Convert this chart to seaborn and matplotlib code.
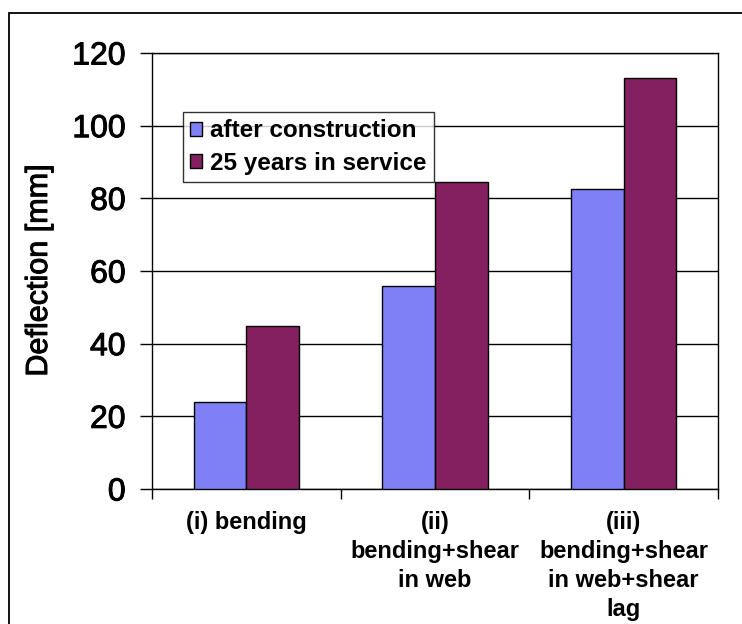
import matplotlib
matplotlib.use("Agg")
import matplotlib.pyplot as plt
import matplotlib.patheffects as pe
import seaborn as sns
import pandas as pd
from matplotlib.patches import Rectangle

categories = ["(i) bending", "(ii)\nbending+shear\nin web", "(iii)\nbending+shear\nin web+shear\nlag"]
series_names = ["after construction", "25 years in service"]
after_construction = [24, 56, 82.5]
years_25 = [45, 84.5, 113]
yticks = [0, 20, 40, 60, 80, 100, 120]

df = pd.DataFrame({
    "cat": categories * 2,
    "series": [series_names[0]] * 3 + [series_names[1]] * 3,
    "val": after_construction + years_25,
})

sns.set_theme(style="white")
plt.rcParams["font.family"] = ["Liberation Sans", "DejaVu Sans"]
plt.rcParams["text.color"] = "black"
plt.rcParams["xtick.color"] = "black"
plt.rcParams["ytick.color"] = "black"
plt.rcParams["axes.labelcolor"] = "black"

fig = plt.figure(figsize=(7.42, 6.24), dpi=100)
ax = fig.add_axes([152/742, 1-489/624, (718-152)/742, (489-53)/624])

palette = {series_names[0]: "#7f7ff6", series_names[1]: "#84205f"}
sns.barplot(data=df, x="cat", y="val", hue="series", palette=palette,
            width=0.56, edgecolor="black", linewidth=1.0, saturation=1,
            ax=ax, zorder=3)

thick = [pe.withStroke(linewidth=0.7, foreground="black")]

ax.set_ylim(0, 120)
ax.set_xlim(-0.5, 2.5)
ax.set_yticks(yticks)
ax.set_yticklabels([str(t) for t in yticks], fontsize=23, path_effects=thick)
ax.yaxis.grid(True, color="black", linewidth=1.0, zorder=0)
ax.set_axisbelow(True)
ax.tick_params(axis="y", direction="out", length=9, width=1, color="black", left=True, pad=10)

ax.set_xticks([0, 1, 2])
ax.set_xticklabels(categories, fontsize=17, fontweight="bold", linespacing=1.32, va="top")
ax.tick_params(axis="x", which="major", length=0, pad=16)
ax.set_xticks([-0.5, 0.5, 1.5, 2.5], minor=True)
ax.tick_params(axis="x", which="minor", direction="out", length=7, width=1, color="black", bottom=True)

ax.set_xlabel("")
ax.set_ylabel("Deflection [mm]", fontsize=22, path_effects=thick)
ax.yaxis.set_label_coords((54-152)/566, 0.5)

for s in ax.spines.values():
    s.set_visible(True)
    s.set_color("black")
    s.set_linewidth(1.0)

leg = ax.legend(loc="upper left", bbox_to_anchor=((183-152)/566, (489-112)/436),
                frameon=True, fancybox=False, edgecolor="black",
                prop={"weight": "bold", "size": 17.5}, handlelength=0.5, handleheight=0.5,
                handletextpad=0.3, borderpad=0.3, labelspacing=0.4, borderaxespad=0)
leg.get_frame().set_linewidth(1.0)
leg.set_zorder(5)

fig.patches.append(Rectangle((9/742, -0.2), 1.5, 1.2 - 13/624, transform=fig.transFigure,
                             fill=False, edgecolor="black", linewidth=1.3))

fig.savefig("out.png", dpi=100)
